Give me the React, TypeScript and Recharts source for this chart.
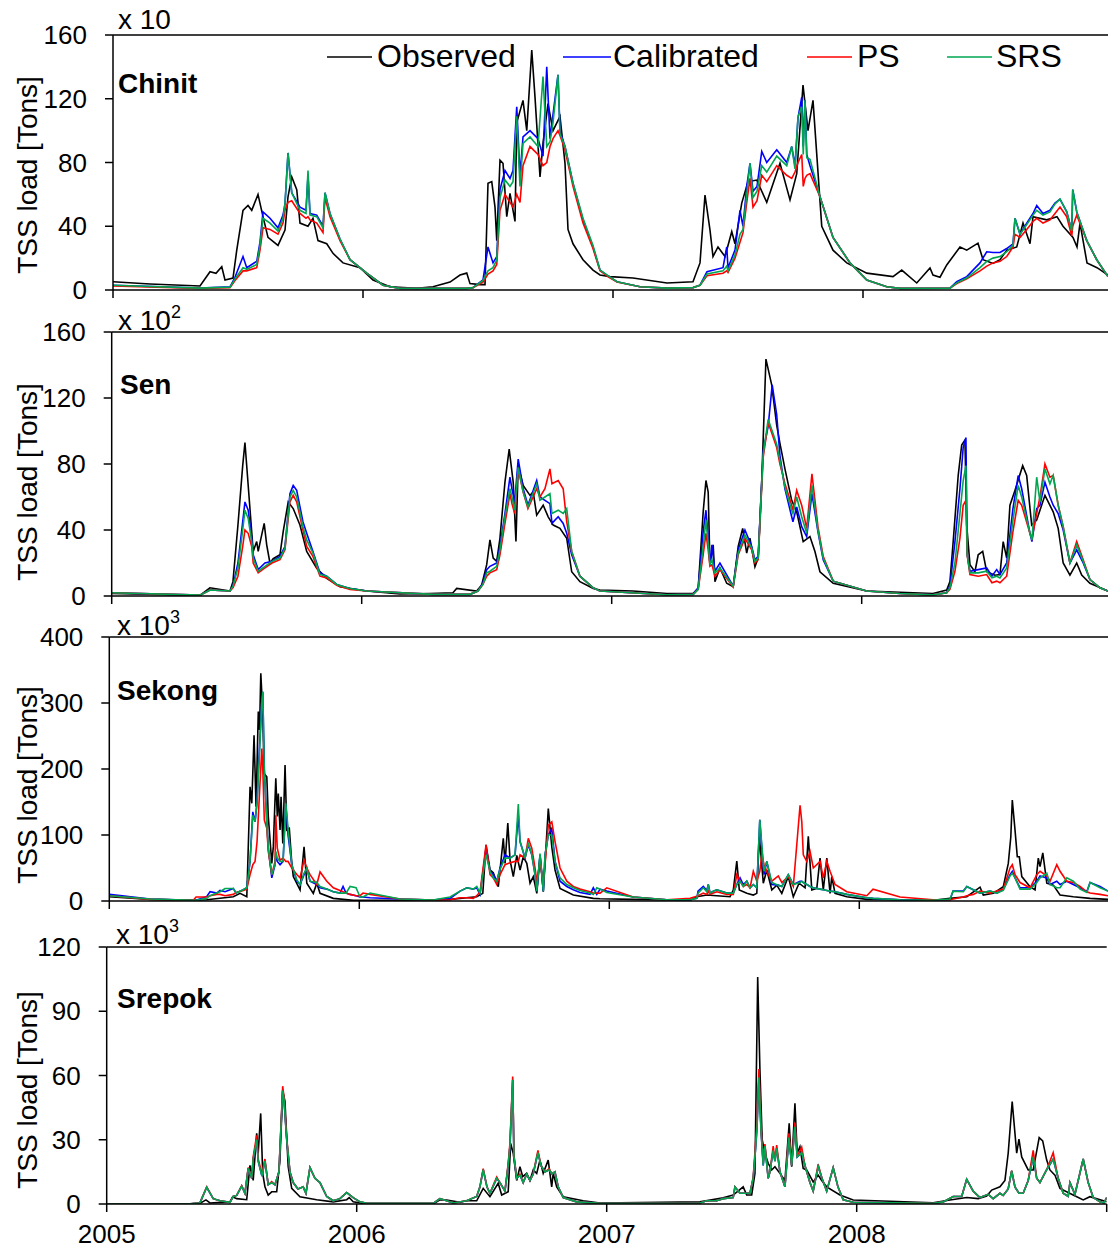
import React from "react";
import { LineChart, Line, XAxis, YAxis, ReferenceLine } from "recharts";

// time in decimal years, values in the panel's own unit (see the "x 10^n" labels)
const years = [2005, 2006, 2007, 2008, 2009];

const chinitTicks = [0, 40, 80, 120, 160];
const senTicks = [0, 40, 80, 120, 160];
const sekongTicks = [0, 100, 200, 300, 400];
const srepokTicks = [0, 30, 60, 90, 120];

// [t, observed]
const chinitObserved = [
  [2005.0, 5.2], [2005.148, 3.8], [2005.348, 2.5], [2005.388, 11.5], [2005.412, 10.5], [2005.435, 14.6],
  [2005.448, 6.3], [2005.48, 7.5], [2005.495, 25], [2005.52, 50], [2005.54, 53], [2005.555, 50],
  [2005.58, 60], [2005.6, 46], [2005.62, 33], [2005.66, 28], [2005.688, 37.6], [2005.7, 58.5],
  [2005.715, 71], [2005.735, 63], [2005.748, 42], [2005.78, 40], [2005.8, 45], [2005.82, 31],
  [2005.855, 29], [2005.88, 23], [2005.92, 17], [2005.988, 14], [2006.04, 6.3], [2006.108, 2],
  [2006.215, 1], [2006.28, 2], [2006.348, 5], [2006.388, 9.4], [2006.415, 10.6], [2006.428, 4],
  [2006.468, 3.4], [2006.488, 3.4], [2006.5, 67], [2006.515, 68], [2006.528, 52], [2006.535, 31],
  [2006.548, 81.5], [2006.56, 79.5], [2006.575, 46], [2006.588, 60.6], [2006.608, 43], [2006.615, 105],
  [2006.64, 119], [2006.655, 100], [2006.675, 150.5], [2006.688, 121], [2006.708, 71], [2006.72, 92],
  [2006.74, 117], [2006.76, 100], [2006.788, 109], [2006.808, 79.5], [2006.82, 38], [2006.84, 29],
  [2006.88, 19], [2006.92, 12.5], [2006.948, 9.4], [2006.988, 8.4], [2007.08, 7.5], [2007.216, 4.4],
  [2007.32, 5.2], [2007.348, 17], [2007.368, 59.6], [2007.388, 37.6], [2007.4, 21], [2007.42, 27],
  [2007.448, 21], [2007.475, 36.6], [2007.488, 29], [2007.515, 54.5], [2007.54, 68], [2007.575, 69],
  [2007.615, 55], [2007.668, 79.5], [2007.708, 56.5], [2007.735, 73], [2007.76, 128.6], [2007.78, 100],
  [2007.8, 119], [2007.835, 40], [2007.88, 25], [2007.935, 17], [2008.015, 10.6], [2008.12, 8.4],
  [2008.155, 12.5], [2008.215, 4.4], [2008.268, 13.8], [2008.28, 9.4], [2008.308, 8], [2008.335, 15.7],
  [2008.388, 27], [2008.415, 25], [2008.46, 29.4], [2008.48, 19], [2008.52, 16.7], [2008.548, 19],
  [2008.575, 25], [2008.615, 27], [2008.64, 42], [2008.668, 29], [2008.68, 46], [2008.735, 44],
  [2008.776, 46], [2008.8, 40], [2008.84, 33], [2008.856, 27], [2008.868, 42], [2008.896, 17],
  [2008.936, 14], [2008.98, 9.4],
];

// [t, calibrated, PS, SRS]
const chinitModels = [
  [2005.0, 3, 2.5, 3], [2005.348, 1.2, 1, 1.2], [2005.468, 2, 1.5, 1.8], [2005.488, 8, 6, 7],
  [2005.52, 21, 12, 14], [2005.535, 14, 12, 13], [2005.575, 18, 14, 16], [2005.588, 30, 25, 28],
  [2005.6, 49, 39, 45], [2005.628, 45, 38, 42], [2005.66, 39, 35, 37], [2005.68, 47, 42, 45],
  [2005.688, 54, 50, 54], [2005.7, 86, 55, 86], [2005.715, 61, 56, 61], [2005.748, 52, 48, 50],
  [2005.772, 50, 45, 48], [2005.78, 72, 46, 75], [2005.788, 48, 44, 47], [2005.815, 47, 42, 46],
  [2005.84, 40, 36, 39], [2005.848, 61, 58, 61], [2005.868, 48, 46, 48], [2005.908, 32, 31, 32],
  [2005.948, 19, 19, 19], [2006.015, 10.6, 10.6, 10.6], [2006.08, 3, 3, 3], [2006.148, 1, 1, 1],
  [2006.415, 1, 1, 1], [2006.44, 1.5, 1.5, 1.5], [2006.48, 6.3, 5, 6], [2006.5, 27, 10, 12],
  [2006.52, 17, 12, 14], [2006.535, 21, 16, 19], [2006.548, 63, 50, 58], [2006.568, 75, 60, 69],
  [2006.588, 70, 55, 65], [2006.6, 75, 52, 68], [2006.615, 115, 60, 109], [2006.628, 72, 55, 65],
  [2006.64, 96, 78, 92], [2006.668, 100, 90, 96], [2006.7, 95, 85, 90], [2006.72, 84, 78, 134],
  [2006.735, 140, 80, 90], [2006.748, 95, 90, 93], [2006.76, 110, 95, 105], [2006.78, 135, 100, 135],
  [2006.788, 100, 97, 98], [2006.808, 90, 88, 90], [2006.84, 67, 65, 67], [2006.88, 44, 42, 45],
  [2006.92, 27, 26, 28], [2006.948, 12.5, 12, 12.5], [2006.984, 8.4, 8, 8.5], [2007.016, 5.2, 5, 5.2],
  [2007.108, 2, 2, 2], [2007.216, 1.2, 1.2, 1.2], [2007.32, 1.5, 1.5, 1.5], [2007.348, 3, 3, 3],
  [2007.376, 11.5, 9, 10], [2007.44, 14, 10.5, 12], [2007.455, 27, 12, 15], [2007.46, 14, 11, 12],
  [2007.488, 25, 20, 22], [2007.508, 50, 30, 35], [2007.52, 40, 36, 38], [2007.535, 65, 55, 60],
  [2007.548, 79.5, 70, 79.5], [2007.56, 62, 52, 58], [2007.576, 65, 56, 62], [2007.595, 87, 72, 78],
  [2007.615, 80, 68, 74], [2007.655, 88, 78, 84], [2007.695, 80, 72, 78], [2007.715, 90, 70, 90],
  [2007.728, 78, 74, 76], [2007.74, 108, 80, 108.7], [2007.755, 121, 85, 115], [2007.761, 90, 65, 85],
  [2007.768, 119, 70, 119], [2007.775, 85, 72, 83], [2007.788, 78, 73, 82], [2007.828, 58.5, 58.5, 58.5],
  [2007.88, 33, 33, 33], [2007.948, 17, 17, 17], [2008.015, 6.3, 6.3, 6.3], [2008.095, 2, 2, 2],
  [2008.148, 1, 1, 1], [2008.348, 1.2, 1.2, 1.2], [2008.375, 5.2, 4, 4.5], [2008.415, 8.4, 7, 7.5],
  [2008.468, 17, 12, 14], [2008.495, 24, 15, 18], [2008.52, 23.5, 17, 20], [2008.548, 23.5, 18, 21],
  [2008.575, 26, 21, 24], [2008.6, 29, 27, 28], [2008.608, 45, 35, 45], [2008.628, 35, 33, 35],
  [2008.655, 42, 38, 41], [2008.68, 48, 43, 47], [2008.695, 53, 45, 50], [2008.72, 48, 42, 47],
  [2008.748, 50, 44, 49], [2008.768, 54.5, 48, 54], [2008.788, 57, 52, 57], [2008.815, 49, 46, 49],
  [2008.835, 37, 34, 37], [2008.839, 63, 40, 63], [2008.855, 49, 47, 49], [2008.895, 31, 31, 31],
  [2008.935, 19, 19, 19], [2008.98, 8.4, 8.4, 8.4],
];

const senObserved = [
  [2005.0, 1.6], [2005.353, 0.3], [2005.393, 5], [2005.473, 3], [2005.485, 8.7], [2005.505, 43],
  [2005.524, 79], [2005.533, 93], [2005.546, 67], [2005.566, 27], [2005.58, 33], [2005.586, 27],
  [2005.6, 37], [2005.61, 44], [2005.62, 31], [2005.633, 20], [2005.646, 22.6], [2005.673, 25],
  [2005.686, 39], [2005.706, 57], [2005.726, 53], [2005.753, 43], [2005.78, 27], [2005.82, 16.8],
  [2005.86, 10.7], [2005.913, 5.6], [2006.02, 3], [2006.153, 1.2], [2006.273, 1.5], [2006.365, 2],
  [2006.38, 4.6], [2006.46, 3], [2006.48, 6.7], [2006.5, 19], [2006.513, 34], [2006.526, 23],
  [2006.54, 21], [2006.553, 35], [2006.573, 69], [2006.59, 89], [2006.606, 69], [2006.617, 33],
  [2006.626, 79], [2006.646, 67], [2006.673, 61], [2006.686, 63], [2006.7, 49], [2006.726, 55],
  [2006.746, 48], [2006.766, 43], [2006.793, 41], [2006.82, 35], [2006.84, 14.7], [2006.873, 8.7],
  [2006.926, 4.6], [2006.953, 3.6], [2007.085, 3], [2007.221, 1.5], [2007.325, 1.5], [2007.346, 4.6],
  [2007.366, 51], [2007.377, 70], [2007.386, 63], [2007.393, 19], [2007.406, 31], [2007.413, 8.7],
  [2007.433, 17], [2007.46, 7.7], [2007.486, 5.6], [2007.506, 30], [2007.524, 41], [2007.54, 26],
  [2007.553, 35], [2007.573, 17.8], [2007.586, 23], [2007.6, 69], [2007.617, 143.6], [2007.64, 128],
  [2007.66, 103.6], [2007.673, 92.5], [2007.693, 77], [2007.72, 58], [2007.74, 51], [2007.766, 33],
  [2007.793, 36], [2007.813, 27], [2007.833, 14.7], [2007.886, 7.7], [2008.02, 3], [2008.285, 1.5],
  [2008.34, 3.6], [2008.353, 8.7], [2008.366, 33], [2008.386, 73], [2008.4, 91.5], [2008.413, 94.5],
  [2008.42, 43], [2008.433, 19], [2008.453, 14.7], [2008.466, 25], [2008.484, 27], [2008.5, 14.7],
  [2008.533, 12.6], [2008.553, 13], [2008.566, 33], [2008.58, 23], [2008.593, 55], [2008.613, 64],
  [2008.644, 79], [2008.66, 73], [2008.68, 43], [2008.7, 46], [2008.733, 61], [2008.766, 51],
  [2008.786, 41], [2008.806, 20], [2008.833, 12.7], [2008.86, 20], [2008.88, 12.7], [2008.913, 7.7],
  [2008.985, 3],
];

const senModels = [
  [2005.0, 2, 2, 2], [2005.353, 0.5, 0.5, 0.5], [2005.393, 3.6, 3.6, 3.6], [2005.473, 3, 3, 3],
  [2005.485, 6, 5, 6], [2005.505, 20, 12, 17], [2005.524, 45, 30, 40], [2005.533, 57, 40, 52],
  [2005.546, 52, 38, 47], [2005.56, 35, 30, 33], [2005.566, 25, 20, 23], [2005.586, 16, 14, 15],
  [2005.613, 20, 17, 18], [2005.641, 21, 20, 21], [2005.673, 24, 22, 23], [2005.693, 30, 28, 29],
  [2005.713, 62, 57, 60], [2005.726, 67, 61, 64], [2005.74, 64, 57, 60], [2005.765, 45, 40, 42],
  [2005.78, 38, 30, 34], [2005.805, 27, 24, 26], [2005.833, 14, 12, 13], [2005.86, 12, 11, 12],
  [2005.9, 7, 6.5, 7], [2005.953, 4.5, 4, 4.5], [2006.02, 3, 3, 3], [2006.285, 1, 1, 1],
  [2006.433, 1, 1, 1], [2006.465, 3, 3, 3], [2006.485, 8, 7, 7], [2006.5, 16, 12, 14],
  [2006.513, 18, 14, 15], [2006.54, 20, 16, 18], [2006.553, 30, 25, 28], [2006.573, 50, 44, 48],
  [2006.593, 72, 62, 65], [2006.601, 65, 56, 60], [2006.612, 57, 50, 52], [2006.626, 83, 77, 78],
  [2006.646, 65, 63, 63], [2006.665, 55, 53, 54], [2006.7, 70, 65, 68], [2006.713, 60, 60, 58],
  [2006.733, 58, 65, 60], [2006.753, 56, 77, 62], [2006.761, 44, 68, 50], [2006.786, 48, 70, 52],
  [2006.806, 44, 65, 50], [2006.82, 38, 45, 53], [2006.84, 25, 27, 27], [2006.873, 12, 12, 12],
  [2006.926, 5, 5, 5], [2006.953, 3, 3, 3], [2007.22, 0.8, 0.8, 0.8], [2007.326, 1, 1, 1],
  [2007.346, 5, 4, 4], [2007.366, 39, 25, 30], [2007.377, 52, 38, 46], [2007.386, 35, 28, 32],
  [2007.393, 19, 18, 19], [2007.401, 31, 19, 22], [2007.413, 15, 12, 14], [2007.433, 20, 16, 17],
  [2007.486, 6, 5.5, 6], [2007.506, 28, 25, 26], [2007.533, 40, 35, 37], [2007.56, 30, 28, 29],
  [2007.573, 22, 20, 21], [2007.586, 24, 22, 23], [2007.606, 88, 84, 86], [2007.626, 103, 105, 107],
  [2007.642, 128, 98, 100], [2007.66, 110, 90, 92], [2007.673, 85, 80, 82], [2007.693, 65, 68, 66],
  [2007.72, 48, 55, 52], [2007.725, 45, 52, 50], [2007.74, 54, 64, 60], [2007.76, 42, 55, 48],
  [2007.78, 36, 41, 38], [2007.801, 62, 74, 67], [2007.825, 39, 42, 40], [2007.846, 22, 24, 23],
  [2007.886, 9, 9, 9], [2008.02, 3, 3, 3], [2008.153, 1.5, 1.5, 1.5], [2008.285, 0.7, 0.7, 0.7],
  [2008.34, 2, 2, 2], [2008.353, 6, 4, 5], [2008.373, 33, 15, 20], [2008.393, 65, 35, 50],
  [2008.406, 90, 55, 70], [2008.417, 96, 58, 79], [2008.422, 25, 25, 25], [2008.433, 15, 13, 14],
  [2008.466, 16, 12, 14], [2008.5, 17, 13, 15], [2008.521, 12, 8, 11], [2008.54, 16, 9, 12],
  [2008.553, 13, 8, 11], [2008.58, 20, 12, 17], [2008.605, 53, 39, 46], [2008.626, 73, 58, 67],
  [2008.64, 65, 55, 60], [2008.673, 38, 38, 38], [2008.681, 33, 35, 34], [2008.7, 53, 50, 72],
  [2008.713, 55, 60, 57], [2008.733, 69, 80, 77], [2008.753, 60, 72, 68], [2008.766, 55, 73, 73],
  [2008.786, 50, 55, 55], [2008.806, 40, 42, 42], [2008.833, 20, 20, 20], [2008.86, 28, 33, 31],
  [2008.886, 20, 22, 21], [2008.913, 10, 10, 10], [2008.953, 5, 5, 5], [2008.985, 3, 3, 3],
];

const sekongObserved = [
  [2005.0, 6.5], [2005.163, 2.5], [2005.336, 1], [2005.39, 2], [2005.496, 6.5], [2005.523, 11.6],
  [2005.55, 6.5], [2005.563, 173], [2005.57, 148], [2005.579, 251], [2005.587, 143], [2005.596, 287],
  [2005.601, 259], [2005.606, 345], [2005.614, 284], [2005.619, 193], [2005.63, 188], [2005.636, 128],
  [2005.65, 57], [2005.656, 82], [2005.666, 186], [2005.672, 128], [2005.676, 163], [2005.683, 107.6],
  [2005.687, 158], [2005.694, 87], [2005.703, 206], [2005.71, 107.6], [2005.72, 110], [2005.73, 57],
  [2005.736, 37], [2005.763, 16.7], [2005.779, 82], [2005.79, 27], [2005.816, 11.6], [2005.83, 27],
  [2005.843, 11.6], [2005.896, 4], [2005.976, 1], [2006.295, 1.5], [2006.363, 2.5], [2006.47, 6.5],
  [2006.494, 11.6], [2006.507, 85], [2006.523, 47], [2006.536, 43], [2006.556, 21.7], [2006.576, 95],
  [2006.583, 57], [2006.594, 118], [2006.603, 62], [2006.616, 37], [2006.63, 69], [2006.643, 47],
  [2006.656, 67], [2006.67, 57], [2006.683, 27], [2006.696, 37], [2006.71, 11.6], [2006.723, 69],
  [2006.736, 14], [2006.756, 140], [2006.77, 82], [2006.783, 47], [2006.803, 19], [2006.856, 9],
  [2006.936, 4], [2006.963, 3.5], [2007.095, 2.5], [2007.323, 1], [2007.35, 6.5], [2007.39, 9],
  [2007.483, 6.5], [2007.496, 16.7], [2007.51, 60.6], [2007.52, 16.7], [2007.55, 11.6], [2007.576, 9],
  [2007.59, 11.6], [2007.6, 97], [2007.606, 72], [2007.616, 27], [2007.63, 47], [2007.65, 16.7],
  [2007.67, 24], [2007.69, 11.6], [2007.716, 37], [2007.736, 6.5], [2007.759, 27], [2007.783, 20],
  [2007.796, 98], [2007.81, 16.7], [2007.83, 19], [2007.843, 65], [2007.856, 16.7], [2007.87, 65],
  [2007.883, 11.6], [2007.89, 37], [2007.903, 11.6], [2007.95, 6.5], [2008.03, 2.5], [2008.296, 1],
  [2008.363, 4], [2008.43, 6.5], [2008.483, 21], [2008.496, 9], [2008.536, 11.6], [2008.576, 21.7],
  [2008.596, 57], [2008.606, 97], [2008.612, 153], [2008.623, 107], [2008.632, 67], [2008.64, 67],
  [2008.65, 37], [2008.683, 21.7], [2008.703, 16.7], [2008.716, 65], [2008.723, 52], [2008.734, 73],
  [2008.75, 27], [2008.776, 24], [2008.803, 9], [2008.856, 6.5], [2008.923, 4], [2008.995, 2.5],
];

const sekongModels = [
  [2005.0, 10, 8, 8], [2005.163, 3, 2.5, 3], [2005.336, 1, 1, 1], [2005.347, 1, 6, 1],
  [2005.39, 7, 6, 4], [2005.403, 14, 8, 8], [2005.43, 12, 10, 12], [2005.443, 16, 10, 14],
  [2005.463, 14, 8, 19], [2005.496, 19, 10, 19], [2005.507, 12, 13, 12], [2005.536, 17, 16, 17],
  [2005.55, 20, 18, 20], [2005.563, 60, 40, 60], [2005.574, 135, 55, 130], [2005.583, 120, 60, 120],
  [2005.591, 150, 90, 150], [2005.599, 220, 150, 210], [2005.61, 300, 231, 300], [2005.614, 317, 200, 317],
  [2005.62, 200, 123, 200], [2005.63, 120, 110, 120], [2005.636, 80, 75, 80], [2005.65, 35, 40, 40],
  [2005.663, 55, 60, 55], [2005.666, 70, 130, 75], [2005.672, 60, 80, 65], [2005.683, 55, 62, 60],
  [2005.695, 60, 65, 60], [2005.706, 145, 60, 148], [2005.715, 100, 60, 110], [2005.73, 55, 50, 55],
  [2005.75, 30, 40, 32], [2005.763, 25, 35, 25], [2005.779, 40, 62, 42], [2005.79, 50, 50, 50],
  [2005.803, 30, 40, 30], [2005.83, 25, 25, 28], [2005.843, 20, 44, 22], [2005.87, 18, 30, 18],
  [2005.896, 14, 20, 14], [2005.923, 12, 16, 12], [2005.935, 22, 14, 12], [2005.947, 12, 12, 12],
  [2005.963, 10, 10, 22], [2005.987, 8, 8, 20], [2006.003, 6, 8, 6], [2006.015, 6, 12, 6],
  [2006.043, 5, 10, 12], [2006.163, 3, 3, 3], [2006.295, 1.5, 1.5, 1.5], [2006.363, 4, 2, 6],
  [2006.403, 15, 5, 15], [2006.43, 20, 5, 20], [2006.456, 18, 4, 18], [2006.47, 20, 8, 22],
  [2006.483, 10, 14, 12], [2006.507, 80, 85, 70], [2006.523, 45, 40, 45], [2006.536, 40, 35, 35],
  [2006.55, 30, 25, 30], [2006.563, 50, 40, 48], [2006.583, 70, 55, 65], [2006.603, 65, 58, 65],
  [2006.623, 70, 60, 70], [2006.636, 130, 60, 147], [2006.643, 90, 70, 90], [2006.663, 65, 65, 65],
  [2006.676, 85, 95, 88], [2006.69, 70, 80, 70], [2006.703, 40, 50, 40], [2006.71, 15, 30, 15],
  [2006.723, 70, 60, 72], [2006.736, 15, 25, 15], [2006.743, 70, 55, 70], [2006.756, 100, 115, 100],
  [2006.77, 110, 120, 100], [2006.783, 60, 90, 60], [2006.803, 30, 50, 35], [2006.83, 22, 30, 25],
  [2006.856, 17, 22, 20], [2006.883, 13, 18, 16], [2006.923, 10, 14, 12], [2006.936, 20, 12, 10],
  [2006.95, 10, 12, 20], [2006.963, 18, 12, 18], [2006.99, 15, 20, 13], [2007.095, 6, 6, 6],
  [2007.23, 2, 2, 2], [2007.323, 2, 4, 2], [2007.35, 4, 7, 4], [2007.355, 15, 8, 12],
  [2007.376, 22, 12, 20], [2007.39, 16, 10, 14], [2007.396, 25, 15, 25], [2007.403, 12, 10, 12],
  [2007.416, 15, 12, 15], [2007.43, 17, 14, 17], [2007.47, 12, 10, 12], [2007.496, 12, 10, 12],
  [2007.51, 25, 40, 25], [2007.523, 35, 30, 30], [2007.536, 25, 22, 22], [2007.55, 30, 25, 30],
  [2007.563, 20, 20, 20], [2007.576, 25, 45, 25], [2007.59, 20, 30, 20], [2007.602, 123, 45, 123],
  [2007.61, 80, 70, 85], [2007.619, 40, 55, 45], [2007.63, 60, 45, 60], [2007.65, 25, 30, 28],
  [2007.676, 24, 38, 24], [2007.69, 22, 28, 22], [2007.716, 40, 37, 40], [2007.736, 25, 22, 25],
  [2007.763, 30, 145, 28], [2007.77, 30, 120, 30], [2007.776, 28, 70, 28], [2007.79, 25, 60, 25],
  [2007.803, 22, 75, 22], [2007.816, 20, 50, 20], [2007.843, 18, 60, 18], [2007.856, 17, 35, 17],
  [2007.87, 16, 60, 16], [2007.883, 15, 45, 15], [2007.903, 14, 25, 14], [2007.95, 10, 14, 10],
  [2008.03, 5, 8, 5], [2008.055, 4, 18, 4], [2008.163, 2, 6, 2], [2008.295, 1, 2, 1],
  [2008.363, 2, 2, 3], [2008.375, 15, 3, 15], [2008.416, 15, 6, 14], [2008.43, 22, 8, 22],
  [2008.456, 17, 10, 17], [2008.483, 12, 15, 12], [2008.523, 15, 12, 15], [2008.55, 12, 15, 12],
  [2008.576, 18, 18, 16], [2008.603, 40, 50, 38], [2008.612, 45, 55, 42], [2008.623, 35, 40, 35],
  [2008.643, 20, 28, 18], [2008.683, 20, 20, 18], [2008.71, 30, 40, 28], [2008.723, 38, 45, 35],
  [2008.75, 35, 38, 42], [2008.763, 25, 30, 25], [2008.79, 30, 55, 20], [2008.803, 25, 45, 20],
  [2008.83, 30, 30, 35], [2008.856, 25, 28, 30], [2008.883, 20, 22, 18], [2008.91, 14, 14, 13],
  [2008.923, 28, 12, 28], [2008.963, 22, 10, 20], [2008.995, 15, 8, 15],
];

const srepokObserved = [
  [2005.0, 0], [2005.32, 0], [2005.373, 0.3], [2005.397, 1.9], [2005.413, 0.5], [2005.493, 1],
  [2005.504, 3.4], [2005.52, 2.5], [2005.56, 2], [2005.573, 18], [2005.586, 11], [2005.6, 33],
  [2005.606, 23.7], [2005.616, 42.3], [2005.624, 14.3], [2005.633, 8], [2005.646, 4.2], [2005.66, 5.7],
  [2005.68, 5.7], [2005.693, 20.5], [2005.704, 53], [2005.713, 48], [2005.726, 17.4], [2005.74, 7.3],
  [2005.773, 3.4], [2005.84, 2], [2005.906, 1], [2005.96, 2], [2005.97, 3], [2005.986, 1],
  [2006.04, 0], [2006.306, 0], [2006.333, 1.9], [2006.36, 1.9], [2006.413, 0.8], [2006.44, 1.5],
  [2006.48, 1.5], [2006.506, 7.3], [2006.533, 3.4], [2006.566, 9.7], [2006.58, 4.2], [2006.606, 5.7],
  [2006.616, 28.3], [2006.626, 23.7], [2006.64, 11], [2006.653, 17.4], [2006.664, 12.8], [2006.68, 14.3],
  [2006.693, 11], [2006.706, 15.9], [2006.72, 14.3], [2006.733, 20.5], [2006.746, 14.3], [2006.766, 20.5],
  [2006.78, 8], [2006.786, 14.3], [2006.8, 8], [2006.826, 3.4], [2006.906, 1.5], [2006.973, 0.5],
  [2007.373, 1], [2007.466, 2.9], [2007.506, 4.2], [2007.546, 8], [2007.56, 4.2], [2007.58, 4.2],
  [2007.593, 14.3], [2007.604, 106], [2007.613, 62.5], [2007.622, 30], [2007.633, 23.7], [2007.646, 19],
  [2007.66, 15.9], [2007.673, 17.4], [2007.693, 14.3], [2007.713, 11], [2007.73, 37.7], [2007.74, 17.4],
  [2007.753, 47], [2007.762, 23.7], [2007.773, 26.8], [2007.786, 16.6], [2007.8, 15.9], [2007.826, 10.3],
  [2007.846, 13.5], [2007.86, 11], [2007.88, 8], [2007.933, 4.2], [2007.986, 1.9], [2008.306, 0.6],
  [2008.373, 1.9], [2008.44, 3], [2008.486, 2.5], [2008.52, 3.7], [2008.54, 6.5], [2008.573, 8],
  [2008.593, 11], [2008.606, 23.7], [2008.622, 47.8], [2008.64, 23.7], [2008.649, 30.3], [2008.66, 22],
  [2008.686, 15.9], [2008.706, 15.9], [2008.73, 31], [2008.744, 29.5], [2008.76, 20.5], [2008.773, 15.9],
  [2008.793, 13.5], [2008.813, 7.3], [2008.866, 4.2], [2008.906, 1.9], [2008.933, 3.4], [2009.0, 1],
];

const srepokModels = [
  [2005.0, 0, 0, 0], [2005.32, 0, 0, 0], [2005.373, 0.5, 0.5, 0.5], [2005.4, 7.8, 8, 7.8],
  [2005.426, 2.5, 2.5, 2.5], [2005.453, 1.5, 1.5, 1.5], [2005.493, 0.8, 0.8, 0.8], [2005.506, 3.5, 3.5, 3.5],
  [2005.52, 4, 4, 4], [2005.54, 8.4, 8.6, 8.4], [2005.553, 5, 5, 5], [2005.566, 16.7, 17, 16.7],
  [2005.58, 12, 12, 12], [2005.586, 21, 22, 21], [2005.6, 30, 32, 30], [2005.606, 20, 21, 20],
  [2005.621, 13, 14, 13], [2005.633, 20, 21, 20], [2005.646, 9, 9, 9], [2005.66, 10, 10.5, 10],
  [2005.673, 9, 9, 9], [2005.689, 15, 15, 15], [2005.704, 53, 55, 53], [2005.709, 49, 50, 49],
  [2005.72, 30, 31, 30], [2005.733, 15, 15, 15], [2005.746, 10, 10, 10], [2005.765, 7, 7, 7],
  [2005.786, 8, 8, 8], [2005.797, 5, 5, 5], [2005.813, 17, 17, 17], [2005.833, 12, 12, 12],
  [2005.853, 10, 10, 10], [2005.88, 3.5, 3.5, 3.5], [2005.906, 1.5, 1.5, 1.5], [2005.933, 2.5, 2.5, 2.5],
  [2005.96, 5.3, 5.3, 5.3], [2005.986, 3, 3, 3], [2006.013, 1, 1, 1], [2006.04, 0.3, 0.3, 0.3],
  [2006.306, 0.3, 0.3, 0.3], [2006.333, 2.5, 2.5, 2.5], [2006.36, 1.5, 1.5, 1.5], [2006.386, 0.5, 0.5, 0.5],
  [2006.44, 1.5, 1.5, 1.5], [2006.48, 3.5, 3.5, 3.5], [2006.493, 8, 8, 8], [2006.506, 16, 16.5, 16],
  [2006.521, 8, 8, 8], [2006.533, 5, 5, 5], [2006.56, 12, 12.6, 12], [2006.573, 10, 10, 10],
  [2006.593, 6, 6, 6], [2006.606, 18, 19, 18], [2006.613, 27, 28.3, 27], [2006.624, 58, 59.5, 58],
  [2006.629, 22, 23, 22], [2006.64, 12, 12, 12], [2006.653, 13.5, 14, 13.5], [2006.666, 10, 10, 10],
  [2006.68, 14, 14, 14], [2006.693, 11, 11, 11], [2006.706, 14, 14, 14], [2006.725, 24, 25, 24],
  [2006.737, 18, 18, 18], [2006.753, 15, 15, 15], [2006.77, 16, 16.5, 16], [2006.781, 14, 14, 14],
  [2006.793, 15, 15, 15], [2006.806, 8, 8, 8], [2006.826, 3, 3, 3], [2006.88, 1, 1, 1],
  [2006.973, 0.3, 0.3, 0.3], [2007.373, 0.5, 0.5, 0.5], [2007.4, 1.5, 1.5, 1.5], [2007.44, 1.5, 1.5, 1.5],
  [2007.466, 2.5, 2.5, 2.5], [2007.506, 3, 3, 3], [2007.513, 8, 8, 8], [2007.533, 5, 5, 5],
  [2007.573, 5, 5, 5], [2007.586, 12, 12.5, 12], [2007.593, 22, 24, 22], [2007.601, 35, 38, 35],
  [2007.609, 60, 63, 59], [2007.617, 35, 36, 35], [2007.626, 18, 19, 18], [2007.633, 27, 28, 27],
  [2007.646, 12, 12, 12], [2007.653, 15, 15, 15], [2007.666, 25, 27, 25], [2007.673, 20, 20, 20],
  [2007.68, 26, 27.5, 26], [2007.693, 15, 15, 15], [2007.713, 8, 8, 8], [2007.729, 31, 33, 31],
  [2007.74, 18, 18, 18], [2007.753, 37, 38, 36], [2007.762, 22, 22, 22], [2007.78, 24, 26.5, 24],
  [2007.793, 18, 18, 18], [2007.813, 10, 10, 10], [2007.826, 6, 6, 6], [2007.846, 17.5, 18.5, 17.5],
  [2007.861, 12, 12, 12], [2007.88, 6, 6, 6], [2007.906, 17, 17, 17], [2007.925, 8, 8, 8],
  [2007.946, 2, 2, 2], [2007.986, 0.8, 0.8, 0.8], [2008.306, 0.3, 0.3, 0.3], [2008.346, 1, 1, 1],
  [2008.386, 3.5, 3.5, 3.5], [2008.42, 3.5, 3.5, 3.5], [2008.44, 11.5, 11.5, 11.5], [2008.466, 6, 6, 6],
  [2008.493, 3, 3, 3], [2008.526, 4.5, 4.5, 4.5], [2008.546, 2.5, 2.5, 2.5], [2008.573, 5, 5, 5],
  [2008.586, 4, 4, 4], [2008.606, 7, 7, 7], [2008.62, 15.4, 15.6, 15.4], [2008.633, 8, 8, 8],
  [2008.649, 5, 5, 5], [2008.666, 5, 5, 5], [2008.686, 11, 11, 11], [2008.706, 22, 25, 22],
  [2008.72, 12, 12, 12], [2008.733, 10, 10, 10], [2008.76, 16, 16, 16], [2008.786, 21, 24, 21],
  [2008.806, 12, 12, 12], [2008.826, 5, 5, 5], [2008.846, 3.5, 3.5, 3.5], [2008.853, 10, 10, 10],
  [2008.873, 4.5, 4.5, 4.5], [2008.906, 21, 21, 21], [2008.926, 10, 10, 10], [2008.946, 3, 3, 3],
  [2008.973, 1, 1, 1], [2008.989, 0.5, 0.5, 0.5], [2009.0, 3, 3, 3],
];

const FONT = '"Liberation Sans", Arial, Helvetica, sans-serif';
const GREEN = "#00a651";

const col = (rows: number[][], i: number) => rows.map((r) => ({ t: r[0], v: r[i] }));

function Panel({ x0, top, bottom, yTicks, observed, models, xLabels }: any) {
  const padTop = 20;
  const axisH = xLabels ? 44 : 22;
  const yMax = yTicks[yTicks.length - 1];
  const common = { dataKey: "v", type: "linear" as const, dot: false, isAnimationActive: false, strokeWidth: 1.6 };
  return (
    <div style={{ position: "absolute", left: 0, top: top - padTop }}>
      <LineChart
        width={x0 + 1010}
        height={bottom - top + padTop + axisH}
        margin={{ top: padTop, right: 10, bottom: 0, left: 0 }}
        style={{ overflow: "visible" }}
      >
        <XAxis
          type="number"
          dataKey="t"
          domain={[2005, 2009]}
          ticks={years}
          interval={0}
          allowDataOverflow
          height={axisH}
          tickSize={8}
          tickMargin={13}
          axisLine={{ stroke: "#000", strokeWidth: 1.5 }}
          tickLine={{ stroke: "#000", strokeWidth: 1.5 }}
          tick={{ fill: "#000", fontSize: 26, fontFamily: FONT }}
          tickFormatter={(v: number) => (xLabels && v < 2009 ? String(v) : "")}
        />
        <YAxis
          type="number"
          domain={[0, yMax]}
          ticks={yTicks}
          interval={0}
          allowDataOverflow
          width={x0}
          tickSize={8}
          tickMargin={18}
          axisLine={{ stroke: "#000", strokeWidth: 1.5 }}
          tickLine={{ stroke: "#000", strokeWidth: 1.5 }}
          tick={{ fill: "#000", fontSize: 26, fontFamily: FONT }}
        />
        <ReferenceLine y={yMax} stroke="#000" strokeWidth={1.5} />
        <Line {...common} data={col(observed, 1)} stroke="#000" />
        <Line {...common} data={col(models, 1)} stroke="#0000ff" />
        <Line {...common} data={col(models, 2)} stroke="#ff0000" />
        <Line {...common} data={col(models, 3)} stroke={GREEN} />
      </LineChart>
    </div>
  );
}

const legendItems = [
  { label: "Observed", color: "#000", x1: 327, x2: 372, tx: 377 },
  { label: "Calibrated", color: "#0000ff", x1: 563, x2: 611, tx: 613 },
  { label: "PS", color: "#ff0000", x1: 807, x2: 852, tx: 857 },
  { label: "SRS", color: GREEN, x1: 947, x2: 992, tx: 996 },
];

const panelLabels = [
  { name: "Chinit", nx: 118, ny: 93, mx: 118, my: 29, exp: "", tcy: 175 },
  { name: "Sen", nx: 120, ny: 394, mx: 118, my: 330, exp: "2", tcy: 482 },
  { name: "Sekong", nx: 117, ny: 700, mx: 117, my: 635, exp: "3", tcy: 785 },
  { name: "Srepok", nx: 117, ny: 1008, mx: 116, my: 944, exp: "3", tcy: 1090 },
];

export default function App() {
  return (
    <div style={{ position: "absolute", left: 0, top: 0, width: 1108, height: 1250, overflow: "hidden", background: "#fff" }}>
      <Panel x0={113} top={35} bottom={290} yTicks={chinitTicks} observed={chinitObserved} models={chinitModels} />
      <Panel x0={111.7} top={332} bottom={596} yTicks={senTicks} observed={senObserved} models={senModels} />
      <Panel x0={109.3} top={637} bottom={901} yTicks={sekongTicks} observed={sekongObserved} models={sekongModels} />
      <Panel x0={106.7} top={947} bottom={1204} yTicks={srepokTicks} observed={srepokObserved} models={srepokModels} xLabels />
      <svg width={1108} height={1250} style={{ position: "absolute", left: 0, top: 0, pointerEvents: "none" }} fontFamily={FONT}>
        {panelLabels.map((p) => (
          <g key={p.name}>
            <text x={p.nx} y={p.ny} fontSize={28} fontWeight="bold" fill="#000">{p.name}</text>
            <text x={p.mx} y={p.my} fontSize={28} fill="#000">
              x 10{p.exp && <tspan fontSize={18} dy={-12}>{p.exp}</tspan>}
            </text>
            <text transform={`translate(37, ${p.tcy}) rotate(-90)`} textAnchor="middle" fontSize={28} fill="#000">
              TSS load [Tons]
            </text>
          </g>
        ))}
        {legendItems.map((l) => (
          <g key={l.label}>
            <line x1={l.x1} x2={l.x2} y1={57} y2={57} stroke={l.color} strokeWidth={1.6} />
            <text x={l.tx} y={67} fontSize={32} fill="#000">{l.label}</text>
          </g>
        ))}
      </svg>
    </div>
  );
}
